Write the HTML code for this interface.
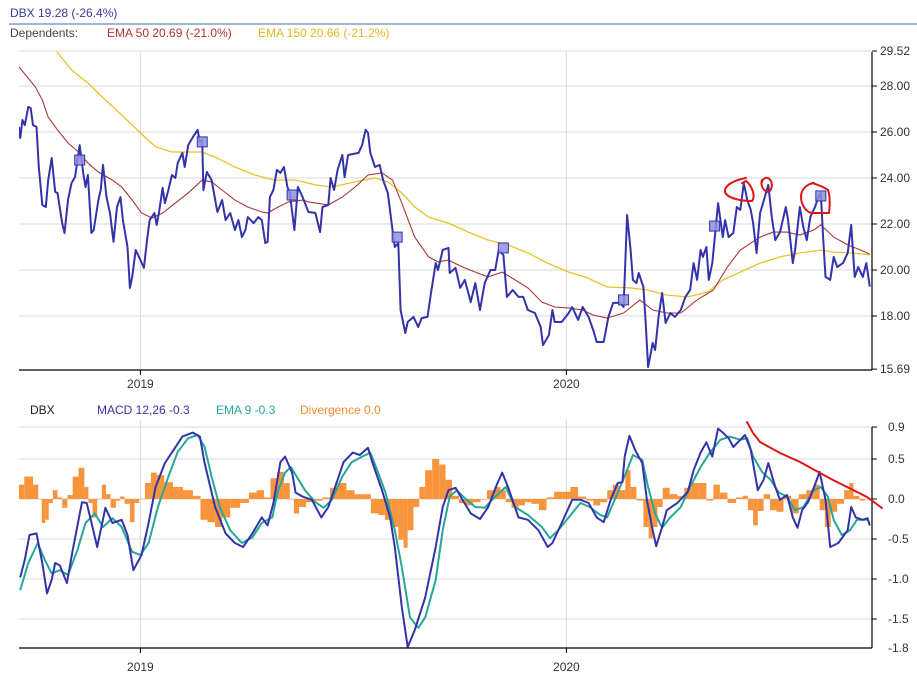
<!DOCTYPE html>
<html><head><meta charset="utf-8"><style>
html,body{margin:0;padding:0;background:#fff;}
svg{display:block;font-family:"Liberation Sans",sans-serif;}
</style></head><body>
<svg id="chart" width="917" height="675" viewBox="0 0 917 675" xmlns="http://www.w3.org/2000/svg">
<defs>
<clipPath id="clipTop"><rect x="19" y="52" width="853" height="318"/></clipPath>
<clipPath id="clipBot"><rect x="19" y="415" width="853" height="233"/></clipPath>
</defs>
<text x="10" y="17" font-size="12" fill="#3a3aa0">DBX 19.28 (-26.4%)</text>
<line x1="9" y1="24" x2="917" y2="24" stroke="#3a70b0" stroke-width="1"/>
<text x="10" y="37" font-size="12" fill="#444">Dependents:</text>
<text x="107" y="37" font-size="12" fill="#b03232">EMA 50 20.69 (-21.0%)</text>
<text x="258" y="37" font-size="12" fill="#e6b422">EMA 150 20.66 (-21.2%)</text>

<text x="30" y="414" font-size="12" fill="#222">DBX</text>
<text x="97" y="414" font-size="12" fill="#3333aa">MACD 12,26 -0.3</text>
<text x="216" y="414" font-size="12" fill="#26a69a">EMA 9 -0.3</text>
<text x="300" y="414" font-size="12" fill="#f08a30">Divergence 0.0</text>

<g id="topGrid"></g>
<g id="botGrid"></g>
<g id="hist" clip-path="url(#clipBot)"></g>
<g id="topSeries" clip-path="url(#clipTop)"></g>
<g id="botSeries" clip-path="url(#clipBot)"></g>
<g id="axes"></g>

<g fill="none" stroke="#dd1515" stroke-width="2" stroke-linecap="round">
<path d="M746,178 C735,180 724,185 725,192 C727,198 740,201 752,201 C756,196 752,186 746,181 L742,183"/>
<path d="M762,180 C760,186 764,192 769,192 C773,188 773,181 768,178 C765,177 762,180 762,182"/>
<path d="M814,183 C806,184 801,190 801,197 C801,203 805,212 812,213 L829,213 C830,205 830,196 828,190 C822,186 818,185 812,183"/>
<path d="M747,422 L753,433 L760,442 L780,453 L800,462 L820,473 L833,480 L847,487 L867,497 L882,508"/>
</g>
</svg>
<script>
const priceDays=[0,1,3,5,8,10,12,15,17,20,23,25,28,31,33,37,39,42,45,48,52,55,57,59,62,64,68,70,72,75,78,81,84,87,89,93,95,97,100,104,107,110,112,116,118,120,123,125,128,131,134,136,140,142,145,149,153,155,157,158,161,165,170,174,177,181,185,188,191,194,196,201,205,208,211,213,215,218,221,224,227,230,232,236,239,243,248,254,258,260,265,267,270,273,277,279,282,291,294,297,299,301,305,309,312,316,320,322,325,327,331,333,338,342,345,350,353,357,359,363,368,369,374,378,382,387,391,395,399,404,408,411,415,418,423,428,432,436,442,447,449,454,457,459,465,471,474,479,483,488,492,495,501,505,509,515,518,521,524,526,529,531,535,537,539,543,545,548,551,554,558,562,567,571,575,578,581,584,586,589,591,594,597,599,603,605,608,612,615,618,621,624,627,629,632,635,639,642,645,648,652,657,659,663,665,669,672,675,678,682,685,687,689,691,695,698,701,706,710,713,716,719,723,726,729];
const price=[26.22,25.74,26.52,26.30,27.09,27.04,26.30,26.22,24.48,22.83,22.74,23.91,24.87,23.39,23.35,22.04,21.61,23.04,23.78,24.04,25.43,24.22,23.61,24.13,21.61,21.74,23.04,23.48,24.57,23.17,22.48,21.22,22.74,23.17,22.17,21.00,19.22,19.70,20.87,20.43,20.09,21.43,22.17,22.48,21.96,22.52,23.57,22.91,23.48,24.13,24.00,24.65,25.09,24.48,25.43,25.78,26.09,25.57,25.65,23.48,24.26,23.91,22.52,23.04,22.17,22.48,21.74,22.17,21.43,21.74,22.30,22.04,22.30,22.17,21.17,21.22,23.17,23.48,24.35,24.22,24.48,23.61,23.35,21.74,23.61,23.17,22.52,22.48,21.65,22.74,22.83,24.00,23.48,24.35,25.00,24.04,25.00,25.09,25.43,26.09,25.96,25.09,24.48,24.57,23.91,23.35,21.74,21.00,21.17,18.26,17.26,17.74,17.96,17.52,17.91,17.96,19.00,20.30,20.00,20.87,20.96,19.87,20.09,19.22,19.57,18.61,19.43,18.26,19.43,20.00,20.00,20.87,20.65,18.83,19.13,18.83,18.83,18.26,18.13,17.52,16.74,17.17,18.26,17.74,17.74,18.13,18.39,17.83,18.39,17.96,17.39,16.87,16.87,17.96,18.57,18.57,18.39,22.39,20.87,19.57,19.43,19.87,19.26,17.70,15.78,16.83,16.52,17.96,19.00,17.70,18.13,17.96,18.26,18.83,19.13,20.30,19.57,20.87,20.57,21.00,19.57,20.30,21.87,22.91,21.43,22.17,21.43,21.61,22.74,22.61,23.78,23.04,22.61,22.04,20.74,22.48,23.17,23.70,22.30,21.30,21.65,22.74,22.17,20.30,20.87,22.74,21.87,21.30,22.30,22.74,23.17,23.35,21.43,19.70,19.57,20.57,20.13,20.30,20.74,21.96,19.70,20.13,19.70,20.30,19.28];
const ema50Days=[0,14,20,25,33,42,51,59,68,80,88,97,105,114,123,134,145,157,165,174,185,196,208,213,222,231,243,248,265,277,288,299,311,320,328,339,351,359,368,380,391,402,414,425,436,448,459,471,483,492,504,518,532,543,555,567,581,595,607,618,627,635,646,658,669,681,687,698,710,721,729];
const ema50=[28.83,27.96,27.39,26.65,26.09,25.52,25.13,24.65,24.26,23.91,23.61,23.04,22.48,22.26,22.48,22.91,23.35,23.91,23.83,23.48,23.04,22.74,22.52,22.48,22.74,22.96,23.04,22.96,22.83,23.17,23.61,24.13,24.22,23.91,22.91,21.43,20.57,20.35,20.43,20.13,19.91,19.70,19.91,19.57,19.22,18.61,18.39,18.35,18.26,18.04,17.91,18.13,18.70,18.26,18.13,18.13,18.70,19.13,20.13,20.87,21.17,21.43,21.65,21.65,21.52,21.74,21.96,21.43,21.09,20.87,20.69];
const ema150Days=[31,45,59,74,88,104,117,131,145,157,168,185,202,219,237,254,268,288,305,316,328,339,351,368,385,402,419,436,453,471,485,504,524,538,555,573,590,603,618,635,652,669,687,698,715,729];
const ema150=[29.57,28.70,28.13,27.39,26.74,25.96,25.35,25.13,25.13,25.13,24.91,24.48,24.13,23.91,23.91,23.70,23.61,23.83,24.00,23.83,23.35,22.74,22.30,22.04,21.65,21.30,21.09,20.74,20.30,19.91,19.70,19.26,19.22,19.13,18.91,18.83,19.04,19.57,19.91,20.30,20.57,20.74,20.87,20.78,20.74,20.66];
const markerDays=[52,157,234,324,415,518,596,687];
const markerVals=[24.78,25.57,23.26,21.43,20.96,18.70,21.91,23.22];
const priceTicks=[29.52,28,26,24,22,20,18,15.69];
const priceTickLabels=["29.52","28.00","26.00","24.00","22.00","20.00","18.00","15.69"];
const yearDays=[104,469];
const yearLabels=["2019","2020"];

const macdDays=[1,5,9,15,20,24,28,31,35,41,46,54,58,61,67,74,80,88,93,98,105,111,117,125,131,140,149,155,159,168,177,185,192,200,208,213,218,224,228,234,237,243,251,259,265,273,278,286,292,299,303,311,318,322,328,333,339,348,357,363,368,374,380,387,395,402,410,414,419,428,436,445,453,457,465,474,481,488,495,501,507,513,517,519,523,528,534,538,543,546,551,555,564,573,578,584,589,594,599,603,608,612,616,622,627,633,638,642,648,652,658,663,667,671,676,682,686,691,695,702,710,713,717,723,727,729];
const macd=[-0.98,-0.76,-0.45,-0.43,-0.80,-1.18,-1.01,-0.80,-0.83,-1.05,-0.64,-0.04,-0.05,-0.23,-0.60,-0.11,-0.30,-0.26,-0.45,-0.89,-0.70,-0.30,0.15,0.45,0.58,0.78,0.83,0.78,0.45,-0.10,-0.43,-0.55,-0.60,-0.43,-0.23,-0.33,-0.05,0.46,0.53,0.33,0.08,0.03,-0.01,-0.23,-0.10,0.24,0.46,0.58,0.55,0.64,0.45,0.11,-0.23,-0.60,-1.35,-1.85,-1.64,-1.23,-0.60,-0.10,0.11,0.14,-0.01,-0.18,-0.25,-0.10,0.20,0.33,0.15,-0.23,-0.26,-0.39,-0.60,-0.55,-0.30,-0.01,-0.01,-0.05,-0.23,-0.29,-0.01,0.20,0.21,0.53,0.79,0.61,0.45,-0.01,-0.39,-0.59,-0.35,-0.14,-0.05,0.09,0.36,0.58,0.71,0.53,0.88,0.83,0.76,0.65,0.71,0.80,0.61,0.11,0.24,0.45,0.15,-0.01,0.05,-0.23,-0.36,-0.14,-0.04,0.18,0.34,-0.01,-0.60,-0.55,-0.39,-0.10,-0.23,-0.26,-0.24,-0.33];
const signalDays=[1,8,16,22,28,35,42,50,57,65,72,80,88,97,104,111,119,128,136,145,153,159,165,172,181,191,200,208,217,222,228,233,245,254,261,268,277,285,294,301,307,314,322,328,335,342,348,357,363,369,375,382,391,399,408,417,425,436,448,455,462,471,481,489,498,504,513,521,526,534,539,545,551,558,567,575,584,592,601,609,618,624,629,637,644,651,658,665,672,681,687,693,698,705,712,718,727];
const signal=[-1.14,-0.80,-0.55,-0.76,-0.93,-0.89,-0.95,-0.64,-0.30,-0.18,-0.35,-0.24,-0.35,-0.66,-0.70,-0.55,-0.10,0.28,0.59,0.76,0.80,0.65,0.28,-0.10,-0.39,-0.55,-0.48,-0.30,-0.23,0.11,0.33,0.40,0.11,-0.04,-0.11,-0.01,0.28,0.46,0.53,0.58,0.36,0.08,-0.39,-0.85,-1.48,-1.61,-1.48,-1.01,-0.39,0.03,0.11,0.01,-0.10,-0.11,0.03,0.15,-0.10,-0.20,-0.35,-0.49,-0.39,-0.23,-0.05,-0.10,-0.20,-0.23,0.08,0.36,0.55,0.49,0.15,-0.18,-0.36,-0.23,-0.10,0.15,0.40,0.58,0.74,0.78,0.74,0.76,0.53,0.33,0.24,0.08,0.03,-0.14,-0.10,0.11,0.15,0.03,-0.26,-0.45,-0.39,-0.26,-0.26];
const histDays=[0,9,15,18,21,24,27,31,35,39,44,48,54,58,61,65,69,73,76,81,85,88,93,97,101,105,111,115,121,128,136,145,153,158,165,171,177,185,194,200,207,213,218,224,230,234,237,243,249,256,264,269,277,284,291,298,305,311,316,322,328,331,335,341,345,351,357,363,368,374,380,385,393,398,404,410,415,419,425,431,436,442,449,455,462,470,475,483,489,495,501,507,511,517,522,526,532,538,541,545,549,554,561,567,573,579,586,592,598,603,611,618,622,627,631,635,641,646,652,658,665,671,678,684,688,693,698,704,710,713,717,723,727];
const hist=[0.18,0.28,0.18,0,-0.30,-0.26,-0.05,0.11,0.02,-0.11,0.05,0.28,0.39,0.15,-0.05,-0.23,0,0.18,0.06,-0.11,-0.02,0.03,-0.06,-0.29,-0.05,0,0.20,0.33,0.30,0.21,0.15,0.11,0.04,-0.26,-0.29,-0.35,-0.23,-0.11,-0.05,0.08,0.11,0.02,0.26,0.34,0.20,0,-0.18,-0.10,-0.04,-0.02,0.02,0.14,0.20,0.11,0.06,0.06,-0.18,-0.20,-0.26,-0.35,-0.51,-0.61,-0.39,-0.10,0.15,0.36,0.50,0.43,0.24,0.04,-0.05,-0.08,-0.04,0,0.11,0.15,0.11,-0.04,-0.11,-0.08,-0.04,-0.06,-0.14,0.02,0.09,0.09,0.15,0.03,-0.02,-0.08,-0.04,0.11,0.18,0.11,0.36,0.15,-0.02,-0.35,-0.49,-0.35,-0.10,0.14,0.06,0.04,0.14,0.20,0.20,-0.02,0.18,0.08,-0.05,0.02,0.04,-0.14,-0.33,-0.15,0.06,-0.14,-0.16,0.04,-0.18,0.06,0.11,0.18,-0.14,-0.35,-0.16,-0.06,0.11,0.20,0.04,-0.02,0];
const macdTicks=[0.9,0.5,0,-0.5,-1.0,-1.5];
const macdTickLabels=["0.9","0.5","0.0","-0.5","-1.0","-1.5"];

const NS='http://www.w3.org/2000/svg';
const X0=19,X1=872;
function xDay(d){return 19+d*426/365;}
function yPrice(v){return 270-(v-20)*23;}
function yMacd(v){return 499-v*80;}
function mk(tag,attrs,parent){const e=document.createElementNS(NS,tag);for(const k in attrs)e.setAttribute(k,attrs[k]);parent.appendChild(e);return e;}
function linePath(days,vals,yf){let s='';const n=Math.min(days.length,vals.length);for(let i=0;i<n;i++){s+=(i?'L':'M')+xDay(days[i]).toFixed(1)+','+yf(vals[i]).toFixed(1);}return s;}

const topGrid=document.getElementById('topGrid');
const botGrid=document.getElementById('botGrid');
const axes=document.getElementById('axes');
const topSeries=document.getElementById('topSeries');
const botSeries=document.getElementById('botSeries');
const histG=document.getElementById('hist');

priceTicks.forEach((t,i)=>{
  const y=yPrice(t);
  if(i<priceTicks.length-1){
    const g=mk('line',{x1:X0,y1:y,x2:X1,y2:y,stroke:'#d9d9d9','stroke-width':1},topGrid);
    
    
  }
  const tk=mk('line',{x1:X1,y1:y,x2:X1+5,y2:y,stroke:'#000','stroke-width':1},axes);
  
  
  const lb=mk('text',{x:880,y:y+4,'font-size':12,fill:'#333'},axes);
  lb.textContent=priceTickLabels[i];
  
  
});
macdTicks.forEach((t,i)=>{
  const y=yMacd(t);
  const g=mk('line',{x1:X0,y1:y,x2:X1,y2:y,stroke:'#d9d9d9','stroke-width':1},botGrid);
  
  
  const tk=mk('line',{x1:X1,y1:y,x2:X1+5,y2:y,stroke:'#000','stroke-width':1},axes);
  
  
  const lb=mk('text',{x:888,y:y+4,'font-size':12,fill:'#333'},axes);
  lb.textContent=macdTickLabels[i];
  
  
});
{const lb=mk('text',{x:888,y:652,'font-size':12,fill:'#333'},axes);
lb.textContent='-1.8';

}

yearDays.forEach((d,i)=>{
  const x=xDay(d);
  [[52,370,topGrid],[420,648,botGrid]].forEach(([a,b,g])=>{
    const l=mk('line',{x1:x,y1:a,x2:x,y2:b,stroke:'#d9d9d9','stroke-width':1},g);
    
    
  });
  [[370,383],[648,666]].forEach(([ay,ly])=>{
    const t=mk('line',{x1:x,y1:ay,x2:x,y2:ay+5,stroke:'#000','stroke-width':1},axes);
    
    
    const lb=mk('text',{x:x,y:ly+5,'font-size':12,fill:'#333','text-anchor':'middle'},axes);
    lb.textContent=yearLabels[i];
    
    
  });
});
[[X0,370,X1,370,'price-x-axis'],[X1,52,X1,370,'price-y-axis'],[X0,648,X1,648,'macd-x-axis'],[X1,427,X1,648,'macd-y-axis']].forEach(a=>{
  const l=mk('line',{x1:a[0],y1:a[1],x2:a[2],y2:a[3],stroke:'#000','stroke-width':1.2},axes);
  
  
});

{const p=mk('path',{d:linePath(ema150Days,ema150,yPrice),fill:'none',stroke:'#e8c22a','stroke-width':1.3},topSeries);

}
{const p=mk('path',{d:linePath(ema50Days,ema50,yPrice),fill:'none',stroke:'#a83838','stroke-width':1.1},topSeries);

}
{const p=mk('path',{d:linePath(priceDays,price,yPrice),fill:'none',stroke:'#3333aa','stroke-width':2,'stroke-linejoin':'round'},topSeries);

}
markerDays.forEach((d,i)=>{
  const x=xDay(d),y=yPrice(markerVals[i]);
  const r=mk('rect',{x:x-5,y:y-5,width:10,height:10,fill:'#8f8fe0','fill-opacity':0.85,stroke:'#3333aa','stroke-width':1},topSeries);
  
  
});

{const n=Math.min(histDays.length,hist.length);
for(let i=0;i<n;i++){
  const xc=xDay(histDays[i]);
  const xl=i>0?(xc+xDay(histDays[i-1]))/2:xc-2;
  const xr=i<n-1?(xc+xDay(histDays[i+1]))/2:xc+2;
  const y0=yMacd(0),y1=yMacd(hist[i]);
  const r=mk('rect',{x:xl,y:Math.min(y0,y1),width:Math.max(0.5,xr-xl),height:Math.max(0.5,Math.abs(y1-y0)),fill:'#f7943c'},histG);
  
  
}}
{const p=mk('path',{d:linePath(signalDays,signal,yMacd),fill:'none',stroke:'#26a69a','stroke-width':2,'stroke-linejoin':'round'},botSeries);

}
{const p=mk('path',{d:linePath(macdDays,macd,yMacd),fill:'none',stroke:'#3333aa','stroke-width':2,'stroke-linejoin':'round'},botSeries);

}
</script>
</body></html>
